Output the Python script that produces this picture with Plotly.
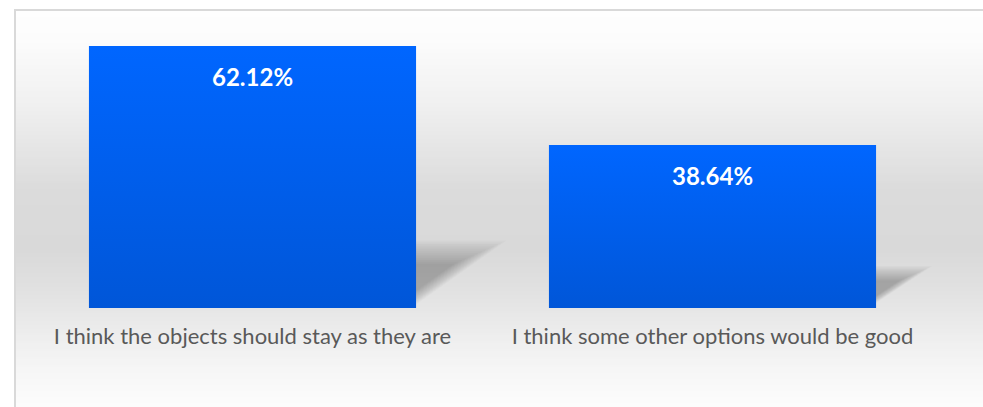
import plotly.graph_objects as go

# Survey answers and their shares (%)
categories = [
    "I think the objects should stay as they are",
    "I think some other options would be good",
]
shares = [62.12, 38.64]
value_labels = ["62.12%", "38.64%"]

W, H = 983, 407
M_L, M_R, M_T, M_B = 16, 0, 11, 99
plot_w = W - M_L - M_R
plot_h = H - M_T - M_B

PX_PER_CAT = 460.0          # horizontal distance between category centres
FIRST_CENTER_PX = 252.5     # first category centre, page pixels
PX_PER_UNIT = 262.0 / 62.12 # vertical pixels per percentage point
BAR_W = 0.711

x0 = -(FIRST_CENTER_PX - M_L) / PX_PER_CAT
x1 = x0 + plot_w / PX_PER_CAT
y_top = plot_h / PX_PER_UNIT

xs = list(range(len(categories)))

fig = go.Figure()


def ypaper(py):
    return (H - M_B - py) / plot_h


def xpaper(px):
    return (px - M_L) / plot_w


# vertical grey background band: light at top and bottom, darker in the middle
stops = [(10, 254), (40, 252), (100, 241), (150, 229), (190, 219),
         (250, 217), (290, 225), (330, 236), (370, 246), (407, 252)]


def grey_at(py):
    for (a, ga), (b, gb) in zip(stops, stops[1:]):
        if a <= py <= b:
            t = (py - a) / (b - a)
            return ga + (gb - ga) * t
    return stops[-1][1]


shapes = []
step = 2
py = 11
while py < H:
    g = int(round(grey_at(py + step / 2)))
    shapes.append(dict(type="rect", xref="paper", yref="paper",
                       x0=xpaper(16), x1=xpaper(W + 2),
                       y0=ypaper(py + step), y1=ypaper(py),
                       fillcolor=f"rgb({g},{g},{g})", line_width=0,
                       layer="below"))
    py += step

# frame lines on the left and top
shapes.append(dict(type="line", xref="paper", yref="paper",
                   x0=xpaper(15), x1=xpaper(15), y0=ypaper(H + 2), y1=ypaper(9.5),
                   line=dict(color="#d9d9d9", width=2), layer="below"))
shapes.append(dict(type="line", xref="paper", yref="paper",
                   x0=xpaper(14), x1=xpaper(W + 2), y0=ypaper(10), y1=ypaper(10),
                   line=dict(color="#d9d9d9", width=2), layer="below"))

# soft cast shadow behind each bar (layered translucent triangles)
N_LAYERS = 14
for x, v in zip(xs, shares):
    xr = x + BAR_W / 2
    dx = 0.0026 * v
    hs = 0.23 * v
    px_, py_ = xr, hs * 0.45
    base = [(xr - 0.03, -0.5), (xr + dx, hs), (xr - 0.03, hs)]
    for k in range(N_LAYERS):
        f = 1.22 - 0.7 * k / (N_LAYERS - 1)
        pts = [(px_ + (a - px_) * f, py_ + (b - py_) * f) for a, b in base]
        path = "M " + " L ".join(f"{a},{b}" for a, b in pts) + " Z"
        shapes.append(dict(type="path", xref="x", yref="y", path=path,
                           fillcolor="rgba(0,0,0,0.021)", line_width=0,
                           layer="below"))

fig.add_trace(go.Bar(
    x=xs, y=shares, width=BAR_W,
    marker=dict(color="#005ee8", line_width=0),
    hoverinfo="skip", showlegend=False,
))

# vertical colour gradient laid over each bar
for x, v in zip(xs, shares):
    l, r = x - BAR_W / 2, x + BAR_W / 2
    fig.add_trace(go.Scatter(
        x=[l, r, r, l, l], y=[0, 0, v, v, 0],
        mode="lines", fill="toself", line_width=0,
        fillgradient=dict(type="vertical",
                          colorscale=[[0, "#0056d8"], [1, "#0066ff"]]),
        hoverinfo="skip", showlegend=False,
    ))

annotations = []
for x, v, t in zip(xs, shares, value_labels):
    annotations.append(dict(
        x=x, y=v, xref="x", yref="y", text=f"<b>{t}</b>",
        showarrow=False, yanchor="middle", yshift=-30,
        font=dict(family="Lato", size=24, color="white"),
    ))

fig.update_layout(
    width=W, height=H,
    margin=dict(l=M_L, r=M_R, t=M_T, b=M_B, pad=0),
    paper_bgcolor="white",
    plot_bgcolor="rgba(0,0,0,0)",
    shapes=shapes,
    annotations=annotations,
    showlegend=False,
    xaxis=dict(range=[x0, x1], tickvals=xs, ticktext=categories,
               showgrid=False, zeroline=False, showline=False,
               ticks="outside", ticklen=9, tickcolor="rgba(0,0,0,0)",
               tickfont=dict(family="Lato", size=22, color="#595959"),
               fixedrange=True),
    yaxis=dict(range=[0, y_top], visible=False, fixedrange=True),
)

fig.write_html("out.html", config={"displayModeBar": False})
